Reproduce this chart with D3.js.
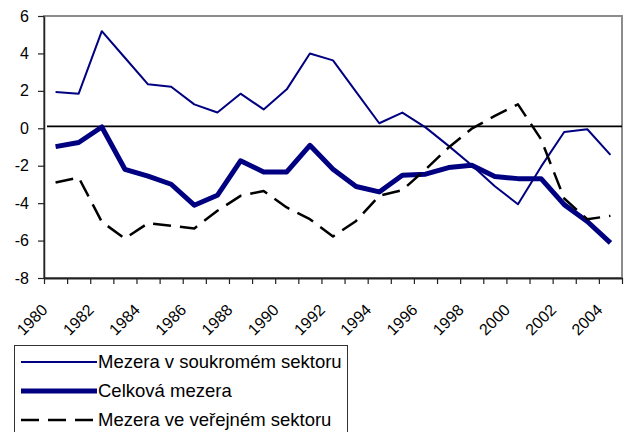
<!DOCTYPE html>
<html>
<head>
<meta charset="utf-8">
<script src="https://cdn.jsdelivr.net/npm/d3@7"></script>
<style>
  body { margin: 0; background: #fff; }
  svg { display: block; font-family: "Liberation Sans", Arial, sans-serif; }
</style>
</head>
<body>
<div class="chart"></div>
<script>
const years = d3.range(1980, 2005);
const yearLabels = d3.range(1980, 2005, 2);
const yTicks = [-8, -6, -4, -2, 0, 2, 4, 6];

const privateGap = [1.94, 1.85, 5.19, 3.77, 2.35, 2.22, 1.28, 0.84, 1.85, 1.01, 2.08, 4.0, 3.63,
  1.95, 0.27, 0.84, 0.05, -0.94, -1.97, -3.1, -4.06, -2.05, -0.2, -0.05, -1.42];
const totalGap = [-0.98, -0.76, 0.07, -2.19, -2.56, -2.99, -4.11, -3.58, -1.74, -2.33, -2.33, -0.91, -2.19,
  -3.11, -3.4, -2.51, -2.45, -2.1, -1.97, -2.58, -2.69, -2.69, -4.08, -4.98, -6.12];
const publicGap = [-2.9, -2.63, -5.0, -5.89, -5.07, -5.21, -5.35, -4.41, -3.61, -3.35, -4.23, -4.86, -5.78,
  -4.95, -3.61, -3.3, -2.2, -1.03, -0.02, 0.66, 1.28, -0.59, -3.75, -4.86, -4.68];

const seriesNames = ['Mezera v soukromém sektoru', 'Celková mezera', 'Mezera ve veřejném sektoru'];

const width = 626;
const height = 432;
const plot = { left: 44, right: 622, top: 16, bottom: 278 };

const svg = d3.select('.chart')
  .append('svg')
  .attr('width', width)
  .attr('height', height);

const xScale = d3.scaleLinear()
  .domain([1979.5, 2004.5])
  .range([plot.left, plot.right]);

const yScale = d3.scaleLinear()
  .domain([-8, 6])
  .range([plot.bottom, plot.top]);

// plot frame (grey top/right)
svg.append('rect')
  .attr('x', plot.left)
  .attr('y', plot.top)
  .attr('width', plot.right - plot.left)
  .attr('height', plot.bottom - plot.top)
  .attr('fill', 'none')
  .attr('stroke', '#8c8c8c')
  .attr('stroke-width', 2);

// zero line
svg.append('line')
  .attr('x1', plot.left + 3)
  .attr('x2', plot.right)
  .attr('y1', yScale(0) - 2)
  .attr('y2', yScale(0) - 2)
  .attr('stroke', '#000')
  .attr('stroke-width', 1.8);

// y axis
const yAxis = svg.append('g')
  .attr('transform', `translate(${plot.left},0)`)
  .call(d3.axisLeft(yScale)
    .tickValues(yTicks)
    .tickFormat(d => String(d))
    .tickSizeInner(6)
    .tickSizeOuter(0)
    .tickPadding(9));
yAxis.select('.domain').attr('stroke', '#222').attr('stroke-width', 1.5);
yAxis.selectAll('.tick line').attr('stroke', '#222').attr('stroke-width', 1.2);
yAxis.selectAll('text').attr('font-size', 16).attr('fill', '#000')
  .attr('font-family', '"Liberation Sans", Arial, sans-serif');

// x axis: ticks at year boundaries
const xAxis = svg.append('g')
  .attr('transform', `translate(0,${plot.bottom})`)
  .call(d3.axisBottom(xScale)
    .tickValues(d3.range(1979.5, 2005, 1))
    .tickFormat('')
    .tickSizeInner(6)
    .tickSizeOuter(0));
xAxis.select('.domain').attr('stroke', '#222').attr('stroke-width', 1.8);
xAxis.selectAll('.tick line').attr('stroke', '#222').attr('stroke-width', 1.2);

svg.append('g')
  .selectAll('text')
  .data(yearLabels)
  .enter()
  .append('text')
  .attr('transform', d => `translate(${xScale(d) - 7},${plot.bottom + 33}) rotate(-45)`)
  .attr('text-anchor', 'end')
  .attr('font-size', 16)
  .attr('fill', '#000')
  .text(d => d);

// series
const line = d3.line()
  .x((d, i) => xScale(years[i]))
  .y(d => yScale(d));

const styles = [
  { data: privateGap, color: '#000080', width: 2, dash: null },
  { data: totalGap, color: '#000080', width: 5, dash: null },
  { data: publicGap, color: '#000', width: 2.5, dash: '18,9' }
];

svg.append('g')
  .selectAll('path')
  .data(styles)
  .enter()
  .append('path')
  .attr('d', s => line(s.data))
  .attr('fill', 'none')
  .attr('stroke', s => s.color)
  .attr('stroke-width', s => s.width)
  .attr('stroke-dasharray', s => s.dash)
  .attr('stroke-linejoin', 'round');

// legend
const legend = svg.append('g');
legend.append('rect')
  .attr('x', 14.5)
  .attr('y', 345.5)
  .attr('width', 333)
  .attr('height', 100)
  .attr('fill', '#fff')
  .attr('stroke', '#333')
  .attr('stroke-width', 1);

const legendItems = legend.selectAll('g.item')
  .data(styles)
  .enter()
  .append('g')
  .attr('class', 'item')
  .attr('transform', (s, i) => `translate(0,${362 + i * 29})`);

legendItems.append('line')
  .attr('x1', 21)
  .attr('x2', 97)
  .attr('stroke', s => s.color)
  .attr('stroke-width', s => s.width)
  .attr('stroke-dasharray', s => s.dash);

legendItems.append('text')
  .attr('x', 98)
  .attr('dy', '0.35em')
  .attr('font-size', 18.5)
  .attr('fill', '#000')
  .text((s, i) => seriesNames[i]);
</script>
</body>
</html>
